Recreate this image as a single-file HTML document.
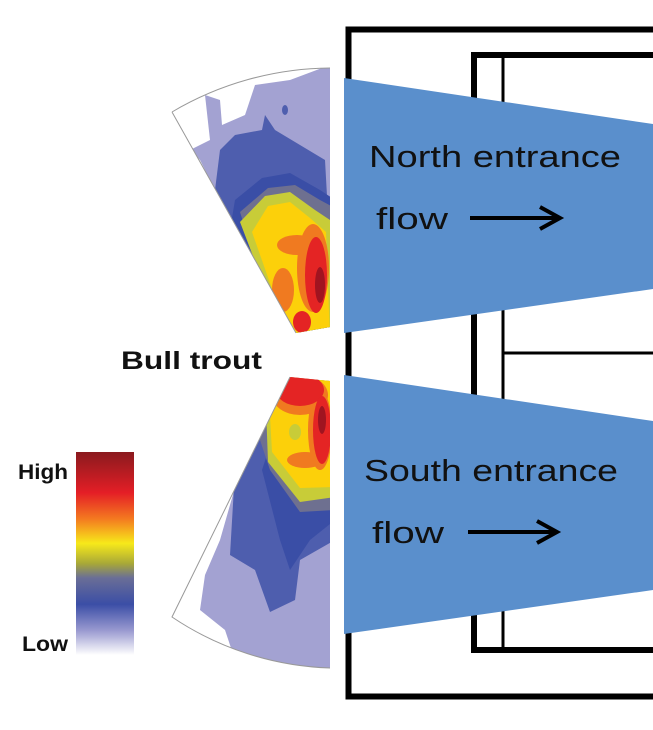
<!DOCTYPE html>
<html><head><meta charset="utf-8"><style>
html,body{margin:0;padding:0;background:#fff;}
svg{display:block}
text{font-family:"Liberation Sans",sans-serif;}
</style></head><body>
<svg width="653" height="730" viewBox="0 0 653 730" xmlns="http://www.w3.org/2000/svg">
<defs>
<clipPath id="nf"><path d="M172,112 A315,315 0 0 1 330,68 L330,327 L296,333 Z"/></clipPath>
<clipPath id="sf"><path d="M290,377 L330,381 L330,668 A300,300 0 0 1 172,617 Z"/></clipPath>
<linearGradient id="cb" x1="0" y1="0" x2="0" y2="1">
<stop offset="0" stop-color="#8a1a1e"/>
<stop offset="0.2" stop-color="#e41e26"/>
<stop offset="0.33" stop-color="#f47a20"/>
<stop offset="0.45" stop-color="#f7e91a"/>
<stop offset="0.55" stop-color="#a8a838"/>
<stop offset="0.62" stop-color="#6a6e96"/>
<stop offset="0.75" stop-color="#3b4ea6"/>
<stop offset="0.88" stop-color="#9a9ad0"/>
<stop offset="1" stop-color="#ffffff"/>
</linearGradient>
</defs>
<rect x="348.5" y="29.5" width="320" height="667" fill="none" stroke="#000" stroke-width="6"/>
<rect x="474" y="55" width="200" height="595" fill="none" stroke="#000" stroke-width="6"/>
<line x1="503" y1="55" x2="503" y2="650" stroke="#000" stroke-width="3"/>
<line x1="503" y1="353" x2="660" y2="353" stroke="#000" stroke-width="3"/>
<path d="M344,78 L653,124 L653,289 L344,333 Z" fill="#5a8fcc"/>
<path d="M344,375 L653,421 L653,590 L344,634 Z" fill="#5a8fcc"/>
<text x="369" y="167" font-size="31" fill="#111" textLength="252" lengthAdjust="spacingAndGlyphs">North entrance</text>
<text x="376" y="229" font-size="31" fill="#111" textLength="72" lengthAdjust="spacingAndGlyphs">flow</text>
<line x1="470" y1="218" x2="556" y2="218" stroke="#000" stroke-width="4"/>
<path d="M540,207 L560,218 L540,229" fill="none" stroke="#000" stroke-width="4"/>
<text x="364" y="481" font-size="31" fill="#111" textLength="254" lengthAdjust="spacingAndGlyphs">South entrance</text>
<text x="372" y="543" font-size="31" fill="#111" textLength="72" lengthAdjust="spacingAndGlyphs">flow</text>
<line x1="468" y1="532" x2="553" y2="532" stroke="#000" stroke-width="4"/>
<path d="M537,521 L557,532 L537,543" fill="none" stroke="#000" stroke-width="4"/>
<!-- north fan -->
<path d="M172,112 A315,315 0 0 1 330,68 L330,327 L296,333 Z" fill="#fff"/>
<g clip-path="url(#nf)">
<path d="M190,150 L210,140 L205,95 L220,100 L222,125 L245,115 L255,85 L290,80 L330,65 L340,340 L290,340 L200,160 Z" fill="#a3a2d2"/>
<path d="M220,150 L235,135 L262,130 L265,115 L275,130 L300,145 L325,160 L335,340 L290,340 L215,190 Z" fill="#4e5eae"/>
<path d="M235,200 L262,178 L290,173 L320,190 L335,200 L335,340 L280,340 L230,230 Z" fill="#3a4ea6"/>
<path d="M240,212 L268,188 L295,185 L320,200 L335,208 L335,340 L280,340 Z" fill="#6e7090"/>
<path d="M240,222 L265,196 L290,192 L315,210 L330,220 L335,340 L285,340 Z" fill="#c8cc38"/>
<path d="M252,232 L268,206 L290,202 L310,218 L326,232 L330,340 L290,340 Z" fill="#fcd00a"/>
<ellipse cx="297" cy="245" rx="20" ry="10" fill="#f07a20"/>
<ellipse cx="283" cy="290" rx="11" ry="22" fill="#f07a20"/>
<ellipse cx="313" cy="268" rx="16" ry="44" fill="#f07a20"/>
<ellipse cx="316" cy="275" rx="11" ry="38" fill="#e42424"/>
<ellipse cx="320" cy="285" rx="5" ry="18" fill="#a01420"/>
<ellipse cx="302" cy="322" rx="9" ry="11" fill="#e42424"/>
<ellipse cx="285" cy="110" rx="3" ry="5" fill="#4e5eae"/>
</g>
<path d="M172,112 A315,315 0 0 1 330,68 M296,333 L172,112" fill="none" stroke="#999" stroke-width="1"/>
<!-- south fan -->
<path d="M290,377 L330,381 L330,668 A300,300 0 0 1 172,617 Z" fill="#fff"/>
<g clip-path="url(#sf)">
<path d="M280,370 L340,370 L340,670 L240,675 L225,630 L200,610 L205,575 L220,540 L240,470 Z" fill="#a3a2d2"/>
<path d="M270,395 L335,380 L335,540 L300,560 L295,600 L270,612 L255,570 L230,555 L235,470 Z" fill="#4e5eae"/>
<path d="M285,400 L335,380 L335,520 L310,540 L290,570 L280,540 L262,470 Z" fill="#3a4ea6"/>
<path d="M270,380 L335,380 L335,510 L300,512 L270,470 L260,440 Z" fill="#6e7090"/>
<path d="M265,380 L335,380 L335,497 L300,502 L268,462 Z" fill="#c8cc38"/>
<path d="M268,380 L335,380 L335,487 L300,488 L272,452 Z" fill="#fcd00a"/>
<ellipse cx="305" cy="460" rx="18" ry="8" fill="#f07a20"/>
<ellipse cx="300" cy="395" rx="28" ry="20" fill="#f07a20"/>
<ellipse cx="320" cy="430" rx="12" ry="40" fill="#f07a20"/>
<ellipse cx="300" cy="390" rx="24" ry="16" fill="#e42424"/>
<ellipse cx="322" cy="430" rx="9" ry="34" fill="#e42424"/>
<ellipse cx="322" cy="420" rx="4" ry="14" fill="#a01420"/>
<ellipse cx="295" cy="432" rx="6" ry="8" fill="#c8cc38"/>
</g>
<path d="M290,377 L172,617 A300,300 0 0 0 330,668" fill="none" stroke="#999" stroke-width="1"/>
<text x="121" y="369" font-size="25" font-weight="bold" fill="#111" textLength="141" lengthAdjust="spacingAndGlyphs">Bull trout</text>
<rect x="76" y="452" width="58" height="203" fill="url(#cb)"/>
<text x="18" y="479" font-size="21" font-weight="bold" fill="#111" textLength="50" lengthAdjust="spacingAndGlyphs">High</text>
<text x="22" y="651" font-size="21" font-weight="bold" fill="#111" textLength="46" lengthAdjust="spacingAndGlyphs">Low</text>
</svg>
</body></html>
